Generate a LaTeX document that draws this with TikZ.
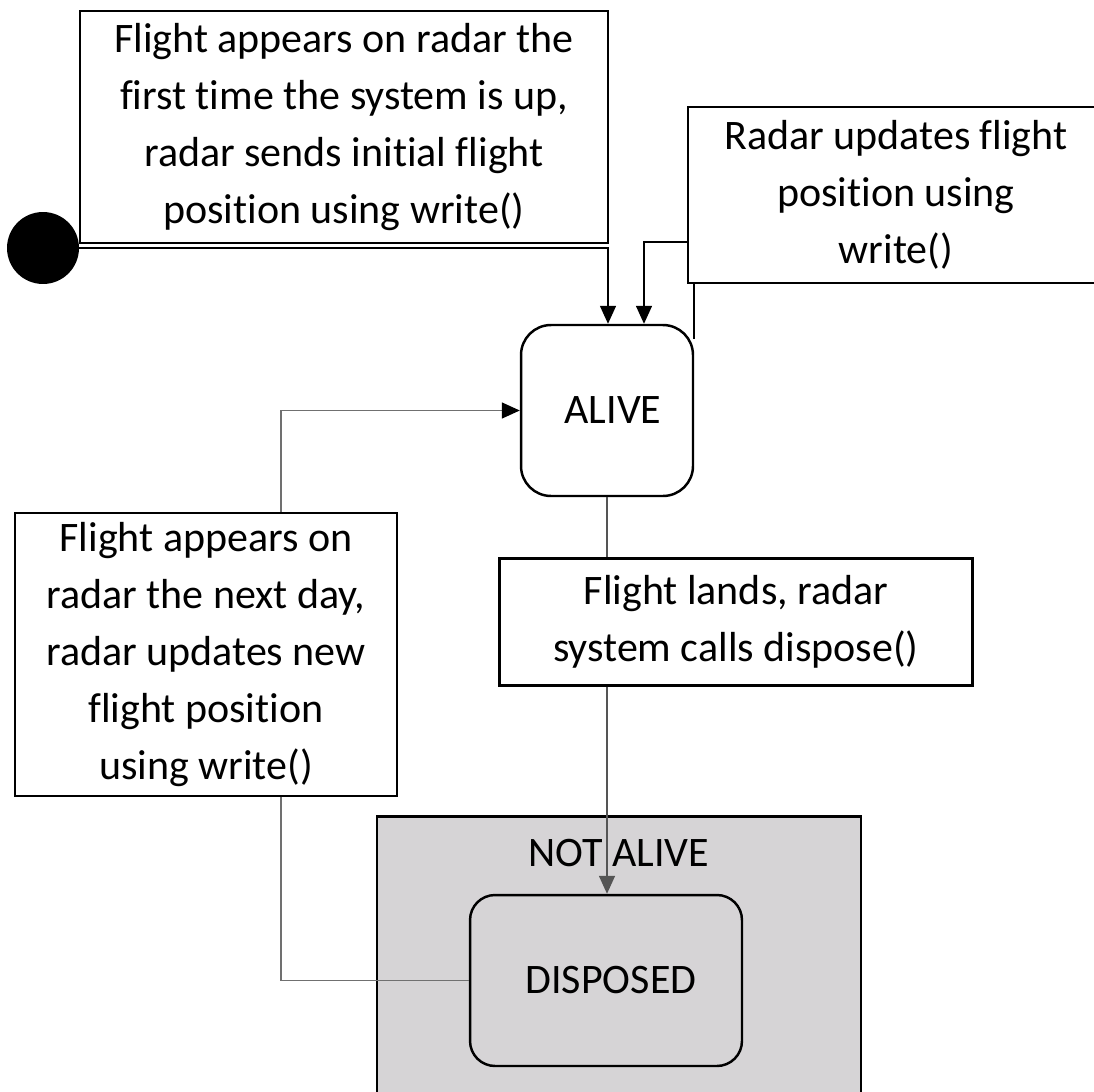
\documentclass[tikz,border=0pt]{standalone}
\usepackage{fontspec}
\setmainfont[RawFeature={-liga,-clig,-calt,-dlig}]{Carlito}
\usepackage{xcolor}
\usepackage{tikz}
\usetikzlibrary{arrows.meta,calc,positioning}
\definecolor{notalivefill}{RGB}{214,212,214}
\definecolor{linkgray}{RGB}{112,112,112}
\definecolor{darkgray}{RGB}{85,85,85}

\begin{document}
\begin{tikzpicture}[
  x=0.02cm, y=-0.02cm,
  font=\fontsize{23.9}{32.4}\selectfont,
  note/.style={draw, line width=1.4pt, fill=white, align=center, inner sep=0pt},
  state/.style={draw, line width=1.4pt, rounded corners=0.6cm, align=center},
  link/.style={line width=0.85pt, -{Triangle[length=0.36cm, width=0.32cm]}}
]
\clip (0,0) rectangle (1094,1091);
\fill[white] (0,0) rectangle (1094,1091);
% composite state and the states
\node[draw, line width=1.4pt, fill=notalivefill, minimum width=9.68cm, minimum height=5.9cm] (notalive) at (619,964) {};
\node (notalivetext) at (619,853) {NOT ALIVE};
\node[state, minimum width=3.44cm, minimum height=3.42cm] (alive) at (607,410.5) {\hspace{0.24cm}ALIVE};
\node[state, rounded corners=0.5cm, fill=notalivefill, minimum width=5.44cm, minimum height=3.42cm] (disposed) at (606,980.5) {\hspace{0.2cm}DISPOSED};
\node[circle, fill=black, minimum size=1.44cm, inner sep=0pt] (start) at (43,248) {};
% transition labels
\node[note, minimum width=10.56cm, minimum height=4.64cm] (firstnote) at (344,127)
  {Flight appears on radar the\\first time the system is up,\\radar sends initial flight\\position using write()};
\node[note, minimum width=8.32cm, minimum height=3.52cm] (updatenote) at (896,195)
  {Radar updates flight\\position using\\write()};
\node[note, minimum width=9.46cm, minimum height=2.54cm] (landnote) at (736,622)
  {Flight lands, radar\\system calls dispose()};
\node[note, minimum width=7.64cm, minimum height=5.66cm] (nextnote) at (206,654.5)
  {Flight appears on\\radar the next day,\\radar updates new\\flight position\\using write()};
% transitions
\draw[link] (start.east) -| ([xshift=0.02cm]alive.north);
\draw[line width=0.85pt] ([yshift=-0.3cm]alive.north east) -- (alive.north east |- updatenote.south);
\draw[link] ([yshift=-0.94cm]updatenote.west) -| ([xshift=0.74cm]alive.north);
\draw[line width=0.85pt, darkgray] (alive.south) -- (alive.south |- landnote.north);
\draw[link, darkgray] (alive.south |- landnote.south) -- (alive.south |- disposed.north);
\draw[line width=0.85pt, linkgray] (disposed.west) -| ([xshift=1.5cm]nextnote.south);
\draw[linkgray, line width=0.85pt, -{Triangle[length=0.36cm, width=0.32cm, color=black]}]
  ([xshift=1.5cm]nextnote.north) |- (alive.west);
\end{tikzpicture}
\end{document}
